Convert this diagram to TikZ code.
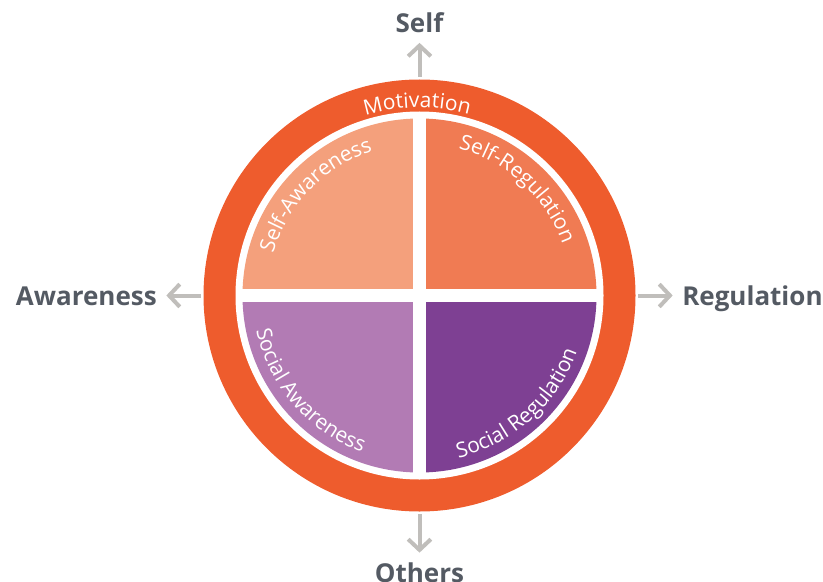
\documentclass[tikz,border=0pt]{standalone}
\usepackage{fontspec}
\setmainfont{Open Sans}
\usetikzlibrary{arrows.meta,decorations.text}
\definecolor{ringorange}{RGB}{238,92,45}
\definecolor{selfaw}{RGB}{244,160,124}
\definecolor{selfreg}{RGB}{240,123,83}
\definecolor{socaw}{RGB}{178,123,180}
\definecolor{socreg}{RGB}{126,64,147}
\definecolor{labelgray}{RGB}{84,90,99}
\definecolor{arrowgray}{RGB}{192,190,187}
\newcommand{\quadfont}{\fontsize{15.75}{18}\selectfont}
\newcommand{\axisfont}{\fontsize{19.5}{22}\selectfont\bfseries}
\begin{document}
\begin{tikzpicture}[x=0.75pt,y=0.75pt,yscale=-1,xscale=1,
  axis arrow/.style={draw=arrowgray,line width=3pt,-{Straight Barb[length=8pt,width=17pt]},shorten <=2pt,shorten >=7pt},
  axis label/.style={inner sep=0pt,text=labelgray,font=\axisfont},
  arc text/.style={decorate,decoration={text along path,text align=center,text color=white,text={|\quadfont|#1}}}]
\useasboundingbox (0,0) rectangle (823,581);
\coordinate (c) at (419.5,295.5);
%Shape: Circle (outer ring)
\node [circle,fill=ringorange,minimum size=324pt,inner sep=0pt] (ring) at (c) {};
%Shape: Circle (white band)
\fill [white] (c) circle (184);
%Shape: Quadrants
\begin{scope}
\clip (c) circle (177);
\foreach \sx/\sy/\col in {-1/-1/selfaw,1/-1/selfreg,-1/1/socaw,1/1/socreg}
  \fill [\col,shift={(c)}] (\sx*6.5,\sy*6.5) rectangle (\sx*190,\sy*190);
\end{scope}
% Curved texts
\path [shift={(c)},arc text={Motivation}] (-140.7:188) arc [start angle=-140.7,end angle=-40.7,radius=188];
\path [shift={(c)},arc text={Self-Awareness}] (-176:152) arc [start angle=-176,end angle=-96,radius=152];
\path [shift={(c)},arc text={Self-Regulation}] (-87.5:152) arc [start angle=-87.5,end angle=-7.5,radius=152];
\path [shift={(c)},arc text={Social Awareness}] (-181:167) arc [start angle=-181,end angle=-261,radius=167];
\path [shift={(c)},arc text={Social Regulation}] (-272:167) arc [start angle=-272,end angle=-352,radius=167];
% Text Node
\node [axis label,anchor=base] (self) at (419.5,33) {Self};
% Text Node
\node [axis label,anchor=base] (others) at (419.5,582) {Others};
% Text Node
\node [axis label,anchor=base east] (aware) at (157,305) {Awareness};
% Text Node
\node [axis label,anchor=base west] (reg) at (682,305) {Regulation};
%Straight Lines
\draw [axis arrow] (ring.north) -- (ring.north |- self.south);
\draw [axis arrow] (ring.south) -- (ring.south |- others.north);
\draw [axis arrow] (ring.west) -- (ring.west -| aware.east);
\draw [axis arrow] (ring.east) -- (ring.east -| reg.west);
\end{tikzpicture}
\end{document}
